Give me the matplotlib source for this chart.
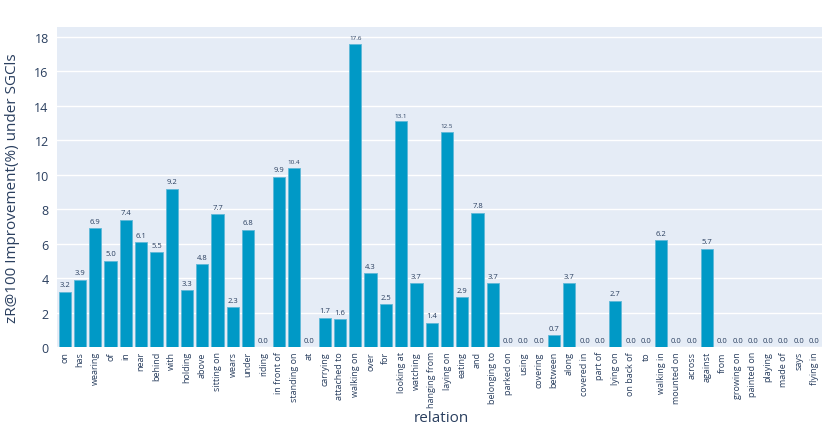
import numpy as np
import matplotlib.pyplot as plt

relations = ['on', 'has', 'wearing', 'of', 'in', 'near', 'behind', 'with', 'holding', 'above',
             'sitting on', 'wears', 'under', 'riding', 'in front of', 'standing on', 'at',
             'carrying', 'attached to', 'walking on', 'over', 'for', 'looking at', 'watching',
             'hanging from', 'laying on', 'eating', 'and', 'belonging to', 'parked on', 'using',
             'covering', 'between', 'along', 'covered in', 'part of', 'lying on', 'on back of',
             'to', 'walking in', 'mounted on', 'across', 'against', 'from', 'growing on',
             'painted on', 'playing', 'made of', 'says', 'flying in']
improvement = [3.2, 3.9, 6.9, 5.0, 7.4, 6.1, 5.5, 9.2, 3.3, 4.8,
               7.7, 2.3, 6.8, 0.0, 9.9, 10.4, 0.0,
               1.7, 1.6, 17.6, 4.3, 2.5, 13.1, 3.7,
               1.4, 12.5, 2.9, 7.8, 3.7, 0.0, 0.0,
               0.0, 0.7, 3.7, 0.0, 0.0, 2.7, 0.0,
               0.0, 6.2, 0.0, 0.0, 5.7, 0.0, 0.0,
               0.0, 0.0, 0.0, 0.0, 0.0]

plt.rcParams['font.family'] = ['Open Sans', 'DejaVu Sans']
txt = '#2a3f5f'

fig = plt.figure(figsize=(8.3, 4.35), dpi=100)
ax = fig.add_axes([0.0687, 0.2, 0.9213, 0.7356])
ax.set_facecolor('#E5ECF6')

x = np.arange(len(relations))
ax.bar(x, improvement, width=0.8, color='#0099C6', edgecolor='#5fb8d8', linewidth=0.6, zorder=2)
for xi, v in zip(x, improvement):
    fs = 4.5 if v >= 10 else 5.5
    ax.text(xi, v + 0.2, f'{v:.1f}', ha='center', va='bottom', fontsize=fs, color=txt, zorder=3)

ax.set_xlim(-0.5, len(relations) - 0.5)
ax.set_ylim(0, 18.58)
ax.set_yticks(range(0, 19, 2))
ax.set_xticks(x)
ax.set_xticklabels(relations, rotation=90, fontsize=6.5, color=txt)
ax.tick_params(axis='y', labelsize=9, colors=txt, length=0, pad=6)
ax.tick_params(axis='x', length=0, pad=3)
ax.grid(axis='y', color='white', linewidth=1, zorder=0)
for s in ax.spines.values():
    s.set_visible(False)

ax.set_ylabel('zR@100 Improvement(%) under SGCls', fontsize=11, color=txt, labelpad=10)
fig.text(0.532, 0.02, 'relation', ha='center', va='bottom', fontsize=11, color=txt)

fig.savefig('out.png', dpi=100)
